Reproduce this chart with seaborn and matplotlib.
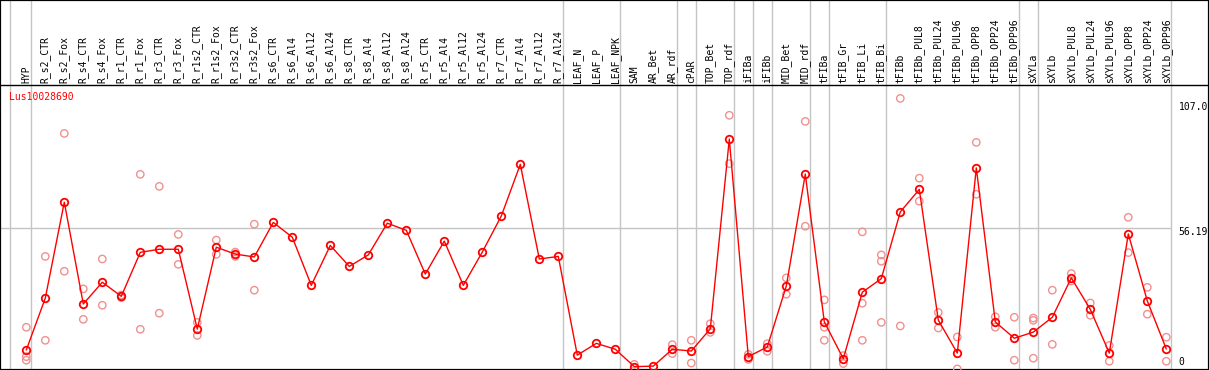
import numpy as np
import pandas as pd
import matplotlib
matplotlib.use("Agg")
import matplotlib.pyplot as plt
import matplotlib.transforms as mtransforms
import seaborn as sns

gene = "Lus10028690"

categories = [
    "HYP", "R_s2_CTR", "R_s2_Fox", "R_s4_CTR", "R_s4_Fox", "R_r1_CTR", "R_r1_Fox",
    "R_r3_CTR", "R_r3_Fox", "R_r1s2_CTR", "R_r1s2_Fox", "R_r3s2_CTR", "R_r3s2_Fox",
    "R_s6_CTR", "R_s6_Al4", "R_s6_Al12", "R_s6_Al24", "R_s8_CTR", "R_s8_Al4",
    "R_s8_Al12", "R_s8_Al24", "R_r5_CTR", "R_r5_Al4", "R_r5_Al12", "R_r5_Al24",
    "R_r7_CTR", "R_r7_Al4", "R_r7_Al12", "R_r7_Al24", "LEAF_N", "LEAF_P", "LEAF_NPK",
    "SAM", "AR_Bet", "AR_rdf", "cPAR", "TOP_Bet", "TOP_rdf", "iFIBa", "iFIBb",
    "MID_Bet", "MID_rdf", "tFIBa", "tFIB_Gr", "tFIB_Li", "tFIB_Bi", "tFIBb",
    "tFIBb_PUL8", "tFIBb_PUL24", "tFIBb_PUL96", "tFIBb_OPP8", "tFIBb_OPP24",
    "tFIBb_OPP96", "sXYLa", "sXYLb", "sXYLb_PUL8", "sXYLb_PUL24", "sXYLb_PUL96",
    "sXYLb_OPP8", "sXYLb_OPP24", "sXYLb_OPP96",
]

means = [
    8.6, 28.9, 66.4, 26.6, 35.1, 29.6, 46.8, 48.0, 48.0, 16.8, 48.8, 46.1, 45.0,
    58.5, 52.7, 33.9, 49.5, 41.3, 45.8, 58.2, 55.4, 38.3, 51.2, 33.9, 46.9,
    61.0, 81.2, 44.2, 45.2, 6.6, 11.2, 8.9,
    2.1, 2.3, 8.9, 8.2, 16.9, 91.1, 6.0, 9.8,
    33.6, 77.4, 19.6, 5.2, 31.2, 36.5, 62.6,
    71.4, 20.3, 7.4, 79.8, 19.6,
    13.2, 15.6, 21.4, 36.8, 24.5, 7.4,
    54.0, 27.8, 9.0,
]

nan = np.nan
rep_a = [
    17.5, 45.2, 93.3, 32.5, 44.2, 30.1, 77.3, 72.6, 53.8, 19.4, 51.6, 46.9, 57.8,
    nan, nan, nan, nan, nan, nan, nan, nan, nan, nan, nan, nan,
    nan, nan, nan, nan, nan, nan, nan,
    3.0, nan, 10.7, 12.4, 18.9, 100.4, 6.9, 11.1,
    36.8, 98.0, 28.2, 6.4, 54.8, 45.8, 107.0,
    75.8, 23.3, 13.7, 89.8, 21.6,
    21.4, 21.1, 32.0, 38.5, 27.0, 10.4,
    60.5, 33.1, 13.6,
]
rep_b = [
    6.0, 12.4, 39.4, 20.6, 26.1, 29.1, 16.7, 23.0, 42.1, 14.3, 46.0, 45.2, 32.0,
    nan, nan, nan, nan, nan, nan, nan, nan, nan, nan, nan, nan,
    nan, nan, nan, nan, nan, nan, nan,
    nan, nan, 7.2, 3.5, 15.5, 81.5, 4.9, 8.1,
    30.4, 57.0, 17.5, 3.3, 26.9, 43.3, 18.0,
    66.8, 17.2, 1.2, 69.5, 17.5,
    4.6, 20.2, 10.8, 35.6, 22.2, 4.2,
    46.7, 22.6, 4.2,
]
rep_c = [
    4.6, nan, nan, nan, nan, nan, nan, nan, nan, nan, nan, nan, nan,
    nan, nan, nan, nan, nan, nan, nan, nan, nan, nan, nan, nan,
    nan, nan, nan, nan, nan, nan, nan,
    nan, nan, nan, nan, nan, nan, nan, nan,
    nan, nan, 12.4, nan, 12.4, 19.4, nan,
    nan, nan, nan, nan, nan,
    nan, 5.4, nan, nan, nan, nan,
    nan, nan, nan,
]

# group separators: after these categories
sep_after = ["HYP", "R_r7_Al24", "LEAF_NPK", "AR_rdf", "cPAR", "TOP_rdf", "iFIBa",
             "iFIBb", "MID_rdf", "tFIBa", "tFIB_Bi", "tFIBb_OPP96", "sXYLa",
             "sXYLb_OPP96"]

scale_labels = ["107.0", "56.19", "0"]
scale_values = [107.0, 56.19, 0.0]

# ---------------------------------------------------------------
pos = np.arange(len(categories))
df_mean = pd.DataFrame({"pos": pos, "value": means, "cat": categories})
reps = pd.DataFrame({"pos": np.concatenate([pos, pos, pos]),
                     "value": np.concatenate([rep_a, rep_b, rep_c])}).dropna()

sns.set_style("white")
plt.rcParams["font.family"] = ["DejaVu Sans Mono"]

W, H = 1209, 370
fig = plt.figure(figsize=(W / 100, H / 100), dpi=100)
ax = fig.add_axes([0, 0, 1, 1])

# pixel mapping
x0_px, dx_px = 26.3, 19.0
y0_px, dy_px = 372.0, 2.557   # value 0 at y0_px, pixels per unit
ax.set_xlim(-x0_px / dx_px, (W - x0_px) / dx_px)
ax.set_ylim((y0_px - H) / dy_px, y0_px / dy_px)

def vy(ypx):
    return (y0_px - ypx) / dy_px

grey = "#c4c4c4"
# separators
sep_x = [-(x0_px - 10) / dx_px] + [categories.index(c) + 0.24 for c in sep_after]
for sx in sep_x:
    ax.axvline(sx, color=grey, lw=1.0, zorder=1)
ax.hlines(56.19, ax.get_xlim()[0], sep_x[-1], color=grey, lw=1.0, zorder=1)
ax.axhline(vy(85.5), color="black", lw=1.0, zorder=2)

# replicates
sns.scatterplot(data=reps, x="pos", y="value", ax=ax, marker="o", s=28,
                color="#f09090", facecolors="none", edgecolor="#f09090",
                linewidth=1.0, zorder=3, legend=False)
# means
sns.lineplot(data=df_mean, x="pos", y="value", ax=ax, color="#ff0000", lw=1.0,
             marker="o", markersize=5.4, markerfacecolor="none",
             markeredgecolor="#ff0000", markeredgewidth=1.3, zorder=4,
             estimator=None, legend=False)

# category labels in top band
for i, c in enumerate(categories):
    ax.text(i, vy(83.5), c, rotation=90, ha="center", va="bottom",
            fontsize=7, color="black", zorder=5)

ax.text(-(x0_px - 9.5) / dx_px, vy(97.5), gene, color="#ff0000", fontsize=7,
        ha="left", va="center")

# scale labels at right (pixel offsets from the value's position)
offsets = [-9.0, -3.7, 10.0]
for lab, val, off in zip(scale_labels, scale_values, offsets):
    tr = mtransforms.offset_copy(ax.transData, fig=fig, x=0, y=off, units="dots")
    ax.text((1178.5 - x0_px) / dx_px, val, lab, transform=tr, fontsize=7,
            ha="left", va="center", color="black")

ax.set_xlabel("")
ax.set_ylabel("")
ax.set_xticks([])
ax.set_yticks([])
for s in ax.spines.values():
    s.set_visible(True)
    s.set_color("black")
    s.set_linewidth(1.6)

fig.savefig("out.png", dpi=100)
